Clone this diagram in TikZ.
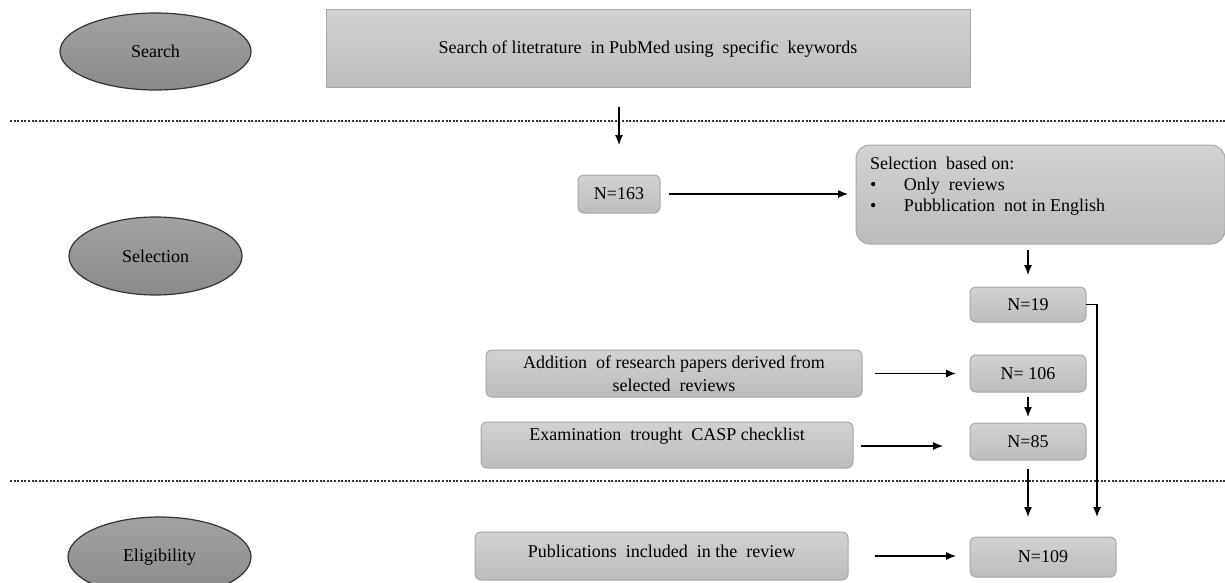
\documentclass[tikz,border=0pt]{standalone}
\usepackage{fontspec}
\setmainfont{Liberation Serif}
\usetikzlibrary{shapes.geometric,arrows.meta}
\definecolor{boxtop}{HTML}{D2D2D2}
\definecolor{boxbot}{HTML}{BCBCBC}
\definecolor{boxline}{HTML}{A6A6A6}
\definecolor{elltop}{HTML}{A2A2A2}
\definecolor{ellbot}{HTML}{8A8A8A}
\definecolor{ellline}{HTML}{333333}
\begin{document}
\begin{tikzpicture}[x=0.5pt,y=-0.5pt,
  every node/.style={font=\fontsize{9}{11.5}\selectfont, inner sep=0pt, outer sep=0pt},
  phase/.style={ellipse, draw=ellline, line width=0.6pt, top color=elltop, bottom color=ellbot},
  gbox/.style={rectangle, draw=boxline, line width=0.5pt, top color=boxtop, bottom color=boxbot, rounded corners=3pt, align=center},
  arr/.style={-{Latex[length=5pt,width=4pt]}, line width=0.6pt, black},
  sep/.style={line width=1.3pt, dash pattern=on 1pt off 0.8pt, black!80}
]
\useasboundingbox (0,0) rectangle (1225,583);

% separators
\coordinate (s1a) at (10,121); \coordinate (s1b) at (1225,121);
\coordinate (s2a) at (10,481); \coordinate (s2b) at (1225,481);
\draw[sep] (s1a) -- (s1b);
\draw[sep] (s2a) -- (s2b);

% phases
\node[phase, minimum width=95.5pt, minimum height=38.5pt] (psearch) at (155.5,51.5) {Search};
\node[phase, minimum width=86.5pt, minimum height=39pt] (psel) at (155.5,256) {Selection};
\node[phase, minimum width=91.5pt, minimum height=40pt] (pelig) at (159.5,557) {Eligibility};

% boxes
\node[gbox, rounded corners=0pt, minimum width=322pt, minimum height=39pt] (search) at (648,49)
  {Search of litetrature \ in PubMed using \ specific \ keywords};
\node[gbox, minimum width=41pt, minimum height=19pt] (n163) at (619,194) {N=163};
\node[gbox, rounded corners=7pt, minimum width=184.5pt, minimum height=49.5pt] (sel) at (1040.5,194.5) {};
\node[anchor=north west, align=left, font=\fontsize{9}{10.5}\selectfont] (seltext) at (870,157)
  {Selection \ based on:\\
   \makebox[17pt][l]{\textbullet}Only \ reviews\\
   \makebox[17pt][l]{\textbullet}Pubblication \ not in English};
\node[gbox, minimum width=58pt, minimum height=17.5pt] (n19) at (1028,304.5) {N=19};
\node[gbox, minimum width=188pt, minimum height=23.5pt] (add) at (674,373.5)
  {Addition \ of research papers derived from\\selected \ reviews};
\node[gbox, minimum width=58pt, minimum height=18.5pt] (n106) at (1028,373.5) {N= 106};
\node[gbox, minimum width=186pt, minimum height=23pt, text depth=11pt] (exam) at (667,445)
  {Examination \ trought \ CASP checklist};
\node[gbox, minimum width=58pt, minimum height=18.5pt] (n85) at (1028,441.5) {N=85};
\node[gbox, minimum width=186.5pt, minimum height=24pt, text depth=5pt] (pub) at (661.5,556)
  {Publications \ included \ in the \ review};
\node[gbox, minimum width=73pt, minimum height=20pt] (n109) at (1043,557) {N=109};

% connectors
\draw[arr, shorten <=9.5pt, shorten >=15pt] (search.south -| n163) -- (n163.north);
\draw[arr, shorten <=4.5pt, shorten >=4pt] (n163.east) -- (n163.east -| sel.west);
\draw[arr, shorten <=3pt, shorten >=6pt] (sel.south -| n19) -- (n19.north);
\draw[arr, shorten >=10pt] (n19.east) -| ([xshift=5.5pt]n19.east |- n109.north);
\draw[arr, shorten <=6.5pt, shorten >=7pt] (add.east) -- (n106.west);
\draw[arr, shorten <=2.5pt, shorten >=3pt] (n106.south) -- (n85.north);
\draw[arr, shorten <=4pt, shorten >=13.5pt] ([yshift=-0.5pt]exam.east) -- ([yshift=-0.5pt]exam.east -| n85.west);
\draw[arr, shorten <=4.5pt, shorten >=10pt] (n85.south) -- (n85.south |- n109.north);
\draw[arr, shorten <=13.5pt, shorten >=7pt] (pub.east) -- (pub.east -| n109.west);
\end{tikzpicture}
\end{document}
